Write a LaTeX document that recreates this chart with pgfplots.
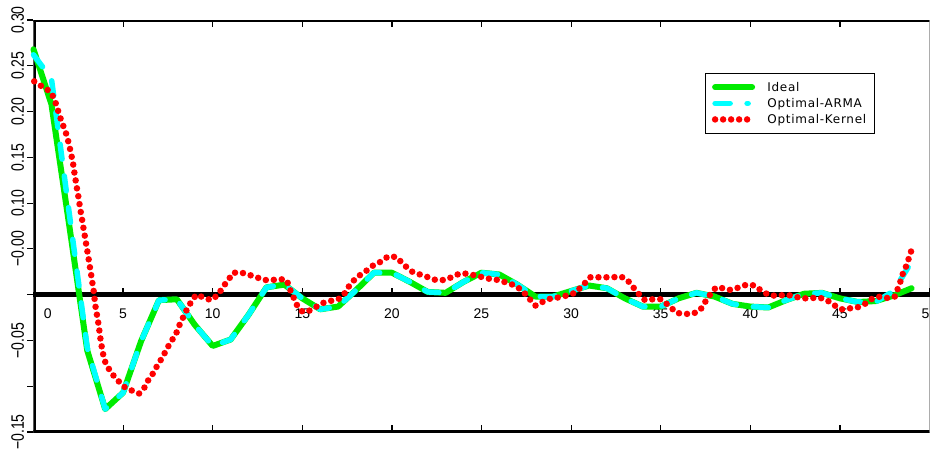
\documentclass[border=0pt]{standalone}
\usepackage{fontspec}
\setmainfont{Liberation Sans}
\newfontfamily\legfont[LetterSpace=6]{DejaVu Sans}
\usepackage{graphicx}
\usepackage{pgfplots}
\pgfplotsset{compat=1.18}
\definecolor{idealgreen}{RGB}{0,235,0}
\definecolor{armacyan}{RGB}{0,255,255}
\definecolor{kernred}{RGB}{255,0,0}
\newcommand{\yl}[1]{\scalebox{0.78}[1]{#1}}
\pgfplotsset{base/.style={width=896pt,height=412pt,scale only axis,
  xmin=0,xmax=50,ymin=-0.15,ymax=0.30,at={(0pt,0pt)},anchor=south west},
  longleg/.style={legend image code/.code={\draw[##1] (0pt,0pt) -- (37pt,0pt);}},
  shortleg/.style={legend image code/.code={\draw[##1] (0pt,0pt) -- (33pt,0pt);}}}
\begin{document}
\begin{tikzpicture}
% frame and y ticks
\begin{axis}[base, axis x line=none, axis y line=left, axis line style={draw=none},
  ytick={-0.15,-0.1,-0.05,0,0.05,0.1,0.15,0.2,0.25,0.3},
  yticklabels={\yl{−0.15},,\yl{−0.05},,\yl{−0.00},\yl{0.10},\yl{0.15},\yl{0.20},\yl{0.25},\yl{0.30}},
  tick align=outside, major tick length=6pt, tick style={black,line width=1.2pt},
  yticklabel style={rotate=90,anchor=south,font=\fontsize{18}{20}\selectfont}]
  \draw[line width=3.5pt] (rel axis cs:0,0) -- (rel axis cs:1,0);
  \draw[line width=3pt] (rel axis cs:0,1) -- (rel axis cs:1,1);
  \draw[line width=1.5pt,gray] (rel axis cs:1,0) -- (rel axis cs:1,1);
  \draw[line width=5pt] (rel axis cs:0,-0.005) -- (rel axis cs:0,1.005);
\end{axis}
% zero line with its ticks and labels
\begin{axis}[base, axis x line=middle, axis y line=none,
  axis line style={-}, x axis line style={line width=4.5pt,-},
  xtick={5,10,15,20,25,30,35,40,45,50},
  xticklabels={5,10,15,20,25,30,35,40,45,50},
  extra x ticks={0.8}, extra x tick labels={0}, extra x tick style={major tick length=0pt},
  tick align=inside, major tick length=7pt, tick style={black,line width=1.2pt},
  xticklabel style={font=\fontsize{14}{16}\selectfont, yshift=-11pt}]
\end{axis}
% data
\begin{axis}[base, axis line style={draw=none}, clip=false,
  xtick={5,10,15,20,25,30,35,40,45}, xticklabels={}, ytick=\empty,
  tick align=inside, major tick length=7pt, tick style={black,line width=1.2pt},
  legend style={at={(0.7494,0.8714)},anchor=north west,draw=black,line width=0.8pt,
    fill=white,inner xsep=6.5pt,inner ysep=6.5pt,row sep=1.5pt,
    font=\legfont\fontsize{12}{14}\selectfont,
    /tikz/every odd column/.append style={column sep=10pt}},
  legend cell align=left, longleg]
\addplot[idealgreen, line width=6pt, line cap=round, line join=round] coordinates {
(0,0.268) (1,0.208) (2,0.075) (3,-0.061) (4,-0.125) (5,-0.107) (6,-0.051) (7,-0.006)
(8,-0.005) (9,-0.033) (10,-0.056) (11,-0.049) (12,-0.022) (13,0.008) (14,0.011)
(15,-0.004) (16,-0.016) (17,-0.013) (18,0.005) (19,0.024) (20,0.024) (21,0.014)
(22,0.003) (23,0.002) (24,0.014) (25,0.024) (26,0.022) (27,0.011) (28,-0.002)
(29,-0.002) (30,0.004) (31,0.010) (32,0.007) (33,-0.004) (34,-0.013) (35,-0.013)
(36,-0.004) (37,0.002) (38,-0.002) (39,-0.010) (40,-0.013) (41,-0.014) (42,-0.006)
(43,0.001) (44,0.002) (45,-0.004) (46,-0.008) (47,-0.007) (48,-0.001) (49,0.007)};
\addlegendentry{Ideal}
\addplot[armacyan, line width=5.5pt, line cap=round, line join=round, dash pattern=on 15pt off 17pt,
  shortleg] coordinates {
(0,0.262) (1,0.236) (2,0.088) (3,-0.058) (4,-0.125) (5,-0.107) (6,-0.051) (7,-0.006)
(8,-0.005) (9,-0.033) (10,-0.056) (11,-0.049) (12,-0.022) (13,0.008) (14,0.011)
(15,-0.004) (16,-0.016) (17,-0.013) (18,0.005) (19,0.024) (20,0.024) (21,0.014)
(22,0.003) (23,0.002) (24,0.014) (25,0.024) (26,0.022) (27,0.011) (28,-0.002)
(29,-0.002) (30,0.004) (31,0.010) (32,0.007) (33,-0.004) (34,-0.013) (35,-0.013)
(36,-0.004) (37,0.002) (38,-0.002) (39,-0.010) (40,-0.013) (41,-0.014) (42,-0.006)
(43,0.001) (44,0.002) (45,-0.004) (46,-0.008) (47,-0.008) (48,0.004) (49,0.036)};
\addlegendentry{Optimal-ARMA}
\addplot[kernred, line width=6.5pt, line cap=round, line join=round, dash pattern=on 0pt off 8pt] coordinates {
(0.04,0.233) (0.5,0.227) (0.93,0.222) (1.17,0.214) (1.3,0.205) (1.44,0.197) (1.58,0.188)
(1.76,0.180) (1.89,0.171) (2.0,0.163) (2.09,0.154) (2.19,0.146) (2.25,0.137) (2.32,0.129)
(2.39,0.120) (2.47,0.111) (2.54,0.103) (2.6,0.094) (2.68,0.086) (2.75,0.077) (2.83,0.068)
(2.9,0.060) (2.97,0.051) (3.05,0.043) (3.11,0.034) (3.19,0.026) (3.25,0.017) (3.32,0.009)
(3.38,0.001) (3.43,-0.009) (3.5,-0.018) (3.57,-0.025) (3.64,-0.034) (3.7,-0.043)
(3.77,-0.053) (3.85,-0.061) (3.93,-0.070) (4.08,-0.077) (4.36,-0.086) (4.72,-0.094)
(5.09,-0.101) (5.52,-0.105) (5.89,-0.108) (6.21,-0.101) (6.44,-0.092) (6.71,-0.085)
(6.94,-0.076) (7.22,-0.068) (7.41,-0.060) (7.69,-0.051) (7.97,-0.042) (8.15,-0.033)
(8.37,-0.024) (8.61,-0.014) (8.83,-0.007) (9.08,0.000) (9.48,-0.003) (9.91,-0.006)
(10.31,0.000) (10.59,0.009) (10.87,0.016) (11.14,0.024) (11.62,0.024) (11.98,0.022)
(12.45,0.019) (12.86,0.016) (13.33,0.016) (13.76,0.017) (14.13,0.016) (14.31,0.006)
(14.49,-0.002) (14.69,-0.011) (14.97,-0.018) (15.25,-0.019) (15.71,-0.014) (16.17,-0.009)
(16.54,-0.007) (17.01,-0.005) (17.39,0.002) (17.66,0.011) (18.04,0.019) (18.50,0.025)
(18.96,0.032) (19.38,0.036) (19.80,0.042) (20.27,0.041) (20.64,0.033) (21.14,0.025)
(21.57,0.022) (22.03,0.019) (22.45,0.016) (22.91,0.016) (23.33,0.019) (23.77,0.023)
(24.21,0.023) (24.64,0.021) (25.07,0.019) (25.51,0.017) (25.97,0.016) (26.41,0.013)
(26.88,0.010) (27.30,0.004) (27.65,-0.004) (28.02,-0.012) (28.49,-0.007) (28.88,-0.004)
(29.32,-0.003) (29.75,-0.001) (30.22,0.002) (30.65,0.010) (31.06,0.019) (31.49,0.019)
(31.89,0.019) (32.35,0.019) (32.76,0.020) (33.14,0.016) (33.47,0.008) (33.81,0.000)
(34.12,-0.006) (34.58,-0.005) (35.01,-0.005) (35.46,-0.012) (35.89,-0.020) (36.36,-0.021)
(36.78,-0.021) (37.20,-0.017) (37.48,-0.008) (37.79,0.001) (38.09,0.008) (38.49,0.007)
(38.92,0.005) (39.38,0.008) (39.80,0.011) (40.26,0.010) (40.69,0.003) (41.14,-0.001)
(41.57,-0.001) (42.04,0.000) (42.46,-0.002) (42.90,-0.004) (43.33,-0.004) (43.77,-0.003)
(44.21,-0.005) (44.63,-0.011) (45.10,-0.016) (45.52,-0.015) (45.97,-0.014) (46.40,-0.010)
(46.83,-0.004) (47.28,-0.002) (47.74,-0.004) (48.07,-0.002) (48.22,0.006) (48.39,0.015)
(48.53,0.024) (48.72,0.032) (48.85,0.040) (49.0,0.049)};
\addlegendentry{Optimal-Kernel\hspace{6pt}}
\end{axis}
\pgfresetboundingbox
\path[use as bounding box] (-33.5pt,-19pt) rectangle (896.5pt,432pt);
\end{tikzpicture}
\end{document}
